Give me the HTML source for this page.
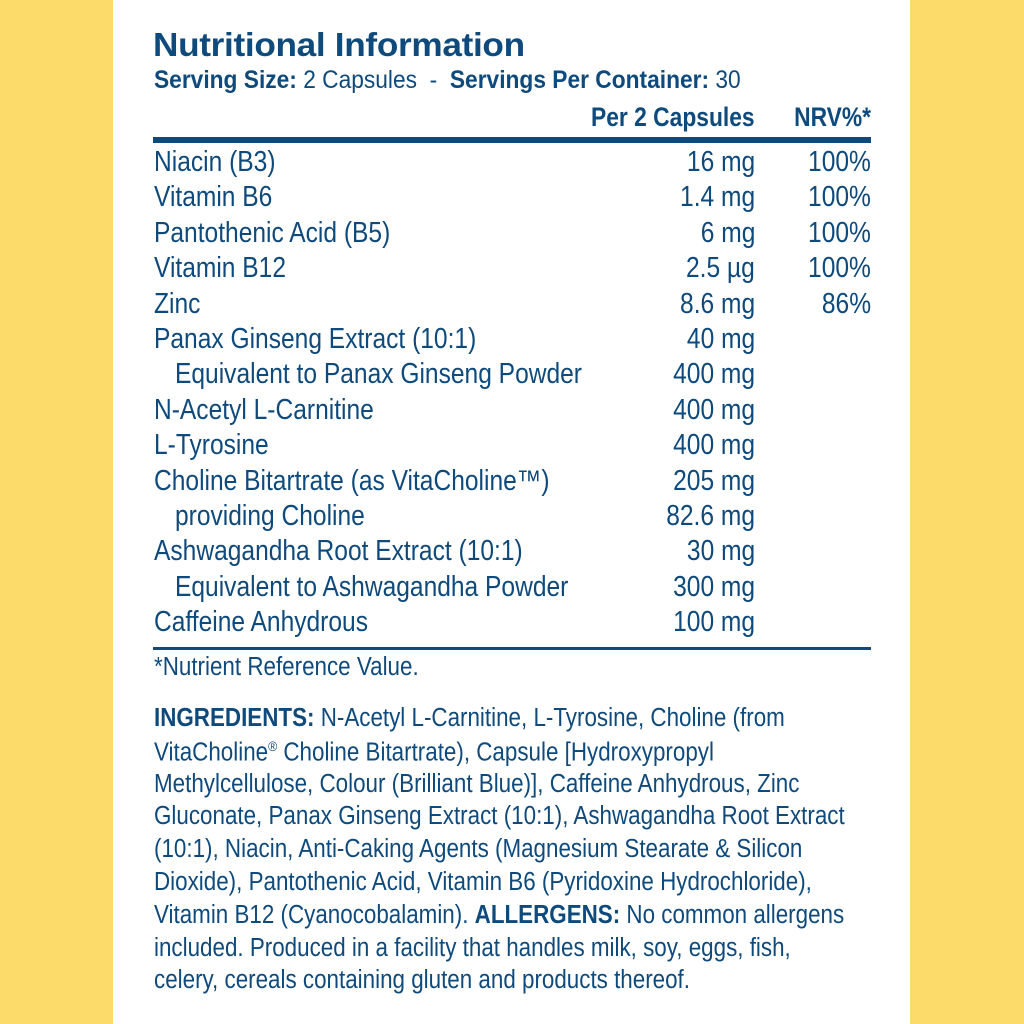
<!DOCTYPE html>
<html><head><meta charset="utf-8"><style>
html,body{margin:0;padding:0}
body{width:1024px;height:1024px;background:#fddb6b;position:relative;overflow:hidden;font-family:"Liberation Sans",sans-serif;color:#0f4a7c}
.panel{position:absolute;left:113px;top:0;width:797px;height:1024px;background:#fff}
.t{position:absolute;white-space:nowrap;line-height:1}
.r{position:absolute;white-space:nowrap;line-height:1;font-size:28.5px;transform:scaleX(0.862);transform-origin:left top}
.rr{transform-origin:right top}
b{font-weight:bold}
.ing{position:absolute;left:154px;font-size:25.5px;white-space:nowrap;line-height:1;transform:scaleX(0.878);transform-origin:left top}
</style></head><body>
<div class="panel"></div>
<div class="t" style="left:153px;top:28px;font-size:33px;font-weight:bold;transform:scaleX(1.066);transform-origin:left top;letter-spacing:-0.3px">Nutritional Information</div>
<div class="t" style="left:154px;top:68px;font-size:25px;transform:scaleX(0.91);transform-origin:left top"><b>Serving Size:</b> 2 Capsules &nbsp;- &nbsp;<b>Servings Per Container:</b> 30</div>
<div class="t" style="right:269px;top:104px;font-size:27px;font-weight:bold;transform:scaleX(0.845);transform-origin:right top">Per 2 Capsules</div>
<div class="t" style="right:153px;top:104px;font-size:27px;font-weight:bold;transform:scaleX(0.845);transform-origin:right top">NRV%*</div>
<div style="position:absolute;left:153px;top:137px;width:718px;height:6px;background:#0f4a7c"></div>
<div style="position:absolute;left:153px;top:647px;width:718px;height:3px;background:#0f4a7c"></div>
<div id="rows"></div>
<script>
var rows=[["Niacin (B3)","16 mg","100%",0],["Vitamin B6","1.4 mg","100%",0],["Pantothenic Acid (B5)","6 mg","100%",0],["Vitamin B12","2.5 µg","100%",0],["Zinc","8.6 mg","86%",0],["Panax Ginseng Extract (10:1)","40 mg","",0],["Equivalent to Panax Ginseng Powder","400 mg","",1],["N-Acetyl L-Carnitine","400 mg","",0],["L-Tyrosine","400 mg","",0],["Choline Bitartrate (as VitaCholine™)","205 mg","",0],["providing Choline","82.6 mg","",1],["Ashwagandha Root Extract (10:1)","30 mg","",0],["Equivalent to Ashwagandha Powder","300 mg","",1],["Caffeine Anhydrous","100 mg","",0]];
var h="";
rows.forEach(function(r,i){var y=148+i*35.4;
h+='<div class="r" style="left:'+(r[3]?175:154)+'px;top:'+y+'px">'+r[0]+'</div>';
h+='<div class="r rr" style="right:269px;top:'+y+'px">'+r[1]+'</div>';
if(r[2])h+='<div class="r rr" style="right:153px;top:'+y+'px">'+r[2]+'</div>';});
var ing=['<b>INGREDIENTS:</b> N-Acetyl L-Carnitine, L-Tyrosine, Choline (from','VitaCholine<sup style="font-size:14px">®</sup> Choline Bitartrate), Capsule [Hydroxypropyl','Methylcellulose, Colour (Brilliant Blue)], Caffeine Anhydrous, Zinc','Gluconate, Panax Ginseng Extract (10:1), Ashwagandha Root Extract','(10:1), Niacin, Anti-Caking Agents (Magnesium Stearate &amp; Silicon','Dioxide), Pantothenic Acid, Vitamin B6 (Pyridoxine Hydrochloride),','Vitamin B12 (Cyanocobalamin). <b>ALLERGENS:</b> No common allergens','included. Produced in a facility that handles milk, soy, eggs, fish,','celery, cereals containing gluten and products thereof.'];
ing.forEach(function(l,i){h+='<div class="ing" style="top:'+(706+i*32.8)+'px">'+l+'</div>';});
h+='<div class="ing" style="top:655px">*Nutrient Reference Value.</div>';
document.getElementById("rows").innerHTML=h;
</script>
</body></html>
